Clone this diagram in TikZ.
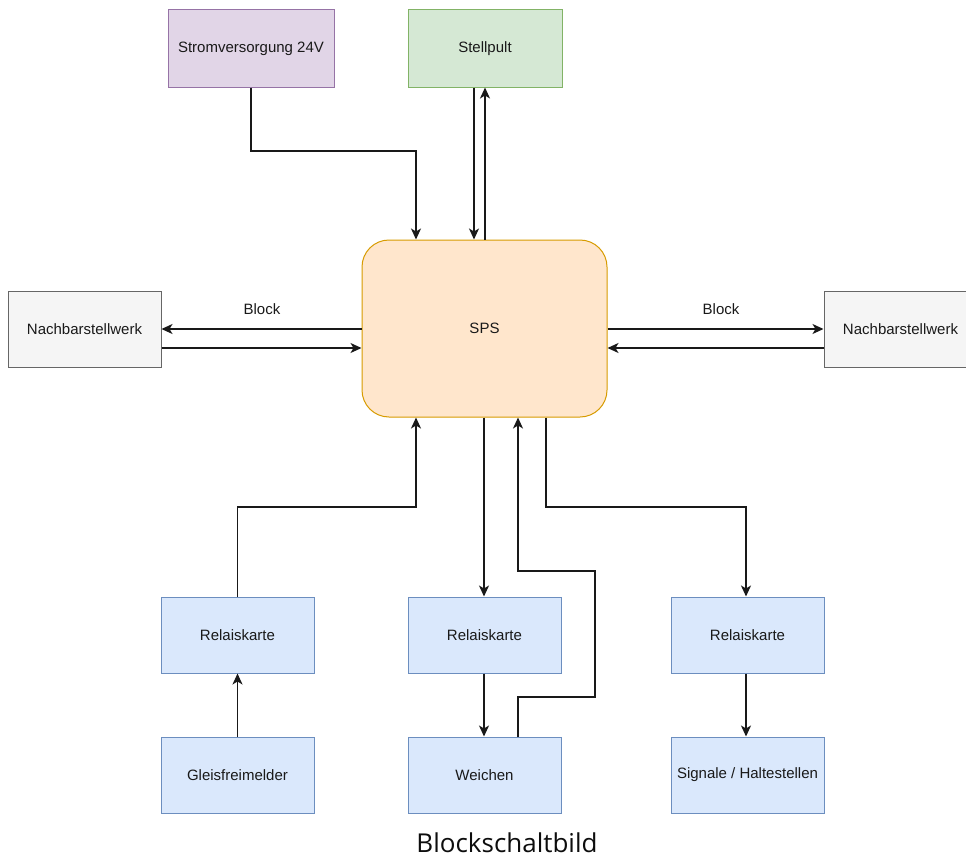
\documentclass[tikz,border=0pt]{standalone}
\usepackage{fontspec}
\setmainfont{Liberation Sans}
\newfontfamily\titlefont{Open Sans}
\usetikzlibrary{arrows.meta}
\definecolor{purpF}{HTML}{E1D5E7}\definecolor{purpD}{HTML}{9673A6}
\definecolor{greenF}{HTML}{D5E8D4}\definecolor{greenD}{HTML}{82B366}
\definecolor{orF}{HTML}{FFE6CC}\definecolor{orD}{HTML}{D79B00}
\definecolor{grF}{HTML}{F5F5F5}\definecolor{grD}{HTML}{666666}
\definecolor{blF}{HTML}{DAE8FC}\definecolor{blD}{HTML}{6C8EBF}
\begin{document}
\begin{tikzpicture}[x=1pt,y=-1pt,
  box/.style={draw, line width=1pt, inner sep=0pt, font=\fontsize{15}{18}\selectfont, text=black!90},
  wbox/.style={box, minimum width=153pt, minimum height=76pt},
  conn/.style={line width=1.4pt, draw=black!90, -{Stealth[length=11pt,width=10pt,inset=3pt]}, line join=miter},
  lbl/.style={font=\fontsize{15}{18}\selectfont, text=black!90}]
\useasboundingbox (0,0) rectangle (966,859);
\node[box, fill=purpF, draw=purpD, minimum width=166pt, minimum height=77pt] (strom) at (251,48.5) {Stromversorgung 24V};
\node[box, fill=greenF, draw=greenD, minimum width=154pt, minimum height=77pt] (stell) at (485,48.5) {Stellpult};
\node[box, fill=orF, draw=orD, minimum width=245pt, minimum height=177pt, rounded corners=27pt] (sps) at (484.5,328.5) {SPS};
\node[wbox, fill=grF, draw=grD] (nl) at (84.5,329) {Nachbarstellwerk};
\node[wbox, fill=grF, draw=grD] (nr) at (900.5,329) {Nachbarstellwerk};
\node[wbox, fill=blF, draw=blD] (r1) at (237.5,635) {Relaiskarte};
\node[wbox, fill=blF, draw=blD] (r2) at (484.5,635) {Relaiskarte};
\node[wbox, fill=blF, draw=blD] (r3) at (747.5,635) {Relaiskarte};
\node[wbox, fill=blF, draw=blD] (gf) at (237.5,775) {Gleisfreimelder};
\node[wbox, fill=blF, draw=blD] (we) at (484.5,775) {Weichen};
\node[wbox, fill=blF, draw=blD] (sg) at (747.5,775) {Signale / Haltestellen};
\node[lbl] (bl) at (262,309) {Block};
\node[lbl] (br) at (721,309) {Block};
\node[font=\titlefont\fontsize{26}{30}\selectfont, text=black!95] (title) at (507,843) {Blockschaltbild};
% top
\draw[conn] (strom.south) |- (416,151) -- (416,0 |- sps.north);
\draw[conn] (474,0 |- stell.south) -- (474,0 |- sps.north);
\draw[conn] (485,0 |- sps.north) -- (485,0 |- stell.south);
% sides
\draw[conn] (sps.west |- 0,329) -- (nl.east |- 0,329);
\draw[conn] (nl.east |- 0,348) -- (sps.west |- 0,348);
\draw[conn] (sps.east |- 0,329) -- (nr.west |- 0,329);
\draw[conn] (nr.west |- 0,348) -- (sps.east |- 0,348);
% bottom
\draw[conn] (r1.north) |- (416,507) -- (416,0 |- sps.south);
\draw[conn] (484,0 |- sps.south) -- (484,0 |- r2.north);
\draw[conn] (518,0 |- we.north) -- (518,697) -- (595,697) -- (595,571) -- (518,571) -- (518,0 |- sps.south);
\draw[conn] (546,0 |- sps.south) |- (746,507) -- (746,0 |- r3.north);
\draw[conn] (r2.south -| 484,0) -- (we.north -| 484,0);
\draw[conn] (r3.south -| 746,0) -- (sg.north -| 746,0);
\draw[conn] (gf.north) -- (r1.south);
\end{tikzpicture}
\end{document}
